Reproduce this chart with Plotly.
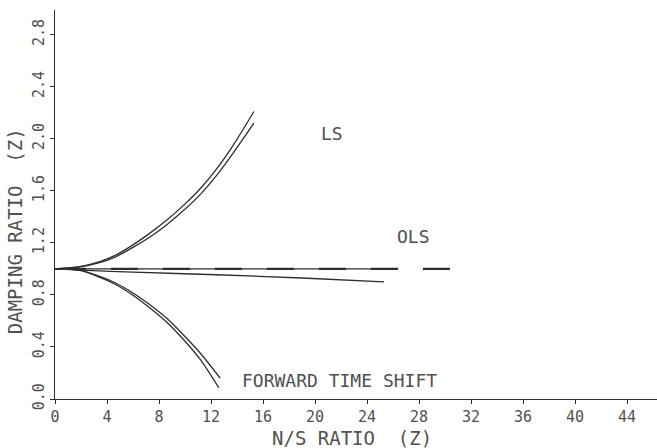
import plotly.graph_objects as go

# ---- data ----
ls_x = [0, 1.9, 3.5, 4.7, 6.0, 7.3, 8.6, 9.9, 11.2, 12.4, 13.7, 15.3]
ls_upper_y = [1.0, 1.018, 1.058, 1.108, 1.185, 1.275, 1.375, 1.49, 1.62, 1.765, 1.95, 2.21]
ls_lower_y = [1.0, 1.015, 1.05, 1.095, 1.165, 1.245, 1.34, 1.45, 1.575, 1.715, 1.89, 2.12]

fts_upper_x = [0, 1.9, 3.5, 4.7, 6.0, 7.3, 8.6, 9.9, 11.2, 12.7]
fts_upper_y = [1.0, 0.99, 0.94, 0.89, 0.815, 0.725, 0.62, 0.49, 0.35, 0.16]
fts_lower_x = [0, 1.9, 3.5, 4.7, 6.0, 7.3, 8.6, 9.9, 11.2, 12.6]
fts_lower_y = [1.0, 0.988, 0.933, 0.878, 0.797, 0.70, 0.59, 0.455, 0.30, 0.085]

ols_solid_x = [0, 26.4]
ols_solid_y = [1.0, 1.0]
ols_dash_x = [0.3, 30.5]
ols_dash_y = [1.0, 1.0]
ols_lower_x = [0, 2.0, 6.0, 12.4, 19.0, 25.3]
ols_lower_y = [1.0, 0.99, 0.975, 0.955, 0.93, 0.9]

x_ticks = [0, 4, 8, 12, 16, 20, 24, 28, 32, 36, 40, 44]
x_tick_labels = ["0", "4", "8", "12", "16", "20", "24", "28", "32", "36", "40", "44"]
y_ticks = [0.0, 0.4, 0.8, 1.2, 1.6, 2.0, 2.4, 2.8]
y_tick_labels = ["0.0", "0.4", "0.8", "1.2", "1.6", "2.0", "2.4", "2.8"]

labels = [("LS", 21.3, 2.04), ("OLS", 27.6, 1.25), ("FORWARD TIME SHIFT", 21.9, 0.145)]

LINE = "#2e2e2e"
TEXT = "#505050"
MONO = "DejaVu Sans Mono, Liberation Mono, monospace"

fig = go.Figure()
for xs, ys in [(ls_x, ls_upper_y), (ls_x, ls_lower_y),
               (fts_upper_x, fts_upper_y), (fts_lower_x, fts_lower_y),
               (ols_solid_x, ols_solid_y), (ols_lower_x, ols_lower_y)]:
    fig.add_trace(go.Scatter(x=xs, y=ys, mode="lines",
                             line=dict(color=LINE, width=1.3, shape="spline", smoothing=0.8),
                             showlegend=False, hoverinfo="skip"))
fig.add_trace(go.Scatter(x=ols_dash_x, y=ols_dash_y, mode="lines",
                         line=dict(color=LINE, width=2.2, dash="27px,25px"),
                         showlegend=False, hoverinfo="skip"))

for txt, lx, ly in labels:
    fig.add_annotation(x=lx, y=ly, text=txt, showarrow=False,
                       font=dict(family=MONO, size=18, color=TEXT))

fig.add_annotation(xref="paper", yref="paper", x=-0.066, y=0.432, xanchor="center", yanchor="middle",
                   text="DAMPING RATIO  (Z)", textangle=-90, showarrow=False,
                   font=dict(family=MONO, size=19, color=TEXT))
fig.add_annotation(xref="paper", yref="paper", x=0.493, y=-0.1, xanchor="center", yanchor="middle",
                   text="N/S RATIO  (Z)", showarrow=False,
                   font=dict(family=MONO, size=19, color=TEXT))

fig.update_layout(
    width=657, height=448,
    margin=dict(l=55, r=0, t=10, b=49),
    paper_bgcolor="white", plot_bgcolor="white",
    xaxis=dict(range=[0, 46.3], tickvals=x_ticks, ticktext=x_tick_labels,
               showgrid=False, zeroline=False, showline=True, linecolor=LINE, linewidth=1.3,
               ticks="outside", ticklen=4, tickcolor=LINE,
               tickfont=dict(family=MONO, size=15, color=TEXT)),
    yaxis=dict(range=[0, 2.99], tickvals=y_ticks, ticktext=y_tick_labels, tickangle=-90,
               showgrid=False, zeroline=False, showline=True, linecolor=LINE, linewidth=1.3,
               ticks="outside", ticklen=4, tickcolor=LINE,
               tickfont=dict(family=MONO, size=15, color=TEXT)),
)

fig.write_html("out.html")
